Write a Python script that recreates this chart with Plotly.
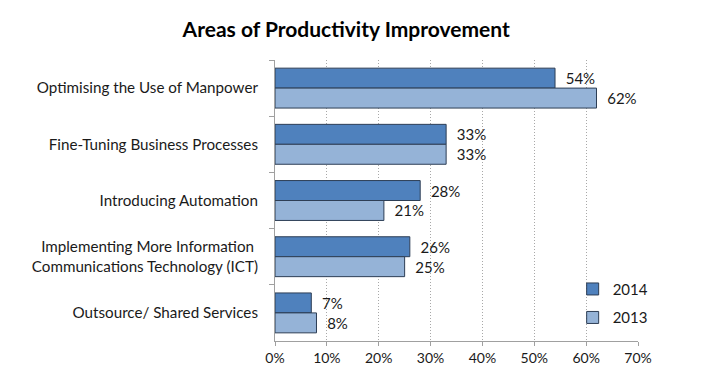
import plotly.graph_objects as go

categories = [
    "Optimising the Use of Manpower",
    "Fine-Tuning Business Processes",
    "Introducing Automation",
    "Implementing More Information\u00a0<br>Communications Technology (ICT)",
    "Outsource/ Shared Services",
]
values_2014 = [54, 33, 28, 26, 7]
values_2013 = [62, 33, 21, 25, 8]
x_ticks = [0, 10, 20, 30, 40, 50, 60, 70]
x_tick_labels = ["0%", "10%", "20%", "30%", "40%", "50%", "60%", "70%"]

FONT = "Lato, 'Open Sans', sans-serif"
TXT = "#1a1a1a"
NB = "\u00a0"

fig = go.Figure()
fig.add_trace(go.Bar(
    y=categories, x=values_2014, name="2014", orientation="h",
    marker=dict(color="#4F81BD", line=dict(color="#2d3e55", width=1)),
    text=[f"{NB}{NB}{v}%" for v in values_2014], textposition="outside",
    textfont=dict(size=15, color=TXT, family=FONT), cliponaxis=False,
    legendgroup="a",
))
fig.add_trace(go.Bar(
    y=categories, x=values_2013, name="2013", orientation="h",
    marker=dict(color="#95B3D7", line=dict(color="#2d3e55", width=1)),
    text=[f"{NB}{NB}{v}%" for v in values_2013], textposition="outside",
    textfont=dict(size=15, color=TXT, family=FONT), cliponaxis=False,
    legendgroup="b",
))

fig.update_layout(
    width=693, height=373,
    margin=dict(l=267, r=63, t=52, b=40),
    paper_bgcolor="white", plot_bgcolor="white",
    font=dict(family=FONT, size=15, color=TXT),
    title=dict(text="<b>Areas of Productivity Improvement</b>",
               x=0.488, xanchor="center", y=0.941, yref="container", yanchor="middle",
               font=dict(size=21, color="#000000", family=FONT)),
    barmode="group", bargap=0.29, bargroupgap=0,
    legend=dict(x=0.82, xanchor="left", y=0.243, yanchor="top",
                traceorder="grouped", tracegroupgap=6, itemwidth=30,
                font=dict(size=15, color=TXT), bgcolor="rgba(0,0,0,0)"),
    showlegend=True,
)
fig.update_xaxes(
    range=[0, 70], tickvals=x_ticks, ticktext=x_tick_labels,
    showgrid=True, gridcolor="#a8a8a8", griddash="1px,2px", gridwidth=1,
    showline=True, linecolor="#a0a0a0", linewidth=1,
    ticks="outside", ticklen=4, tickcolor="#a0a0a0",
    zeroline=False, tickfont=dict(size=14, color=TXT),
)
fig.update_yaxes(
    autorange="reversed", type="category", tickson="boundaries",
    showline=True, linecolor="#a0a0a0", linewidth=1,
    ticks="outside", ticklen=5, tickcolor="#a0a0a0",
    showgrid=False, ticklabelstandoff=13, tickfont=dict(size=15.2, color=TXT),
)

fig.write_html("out.html")
